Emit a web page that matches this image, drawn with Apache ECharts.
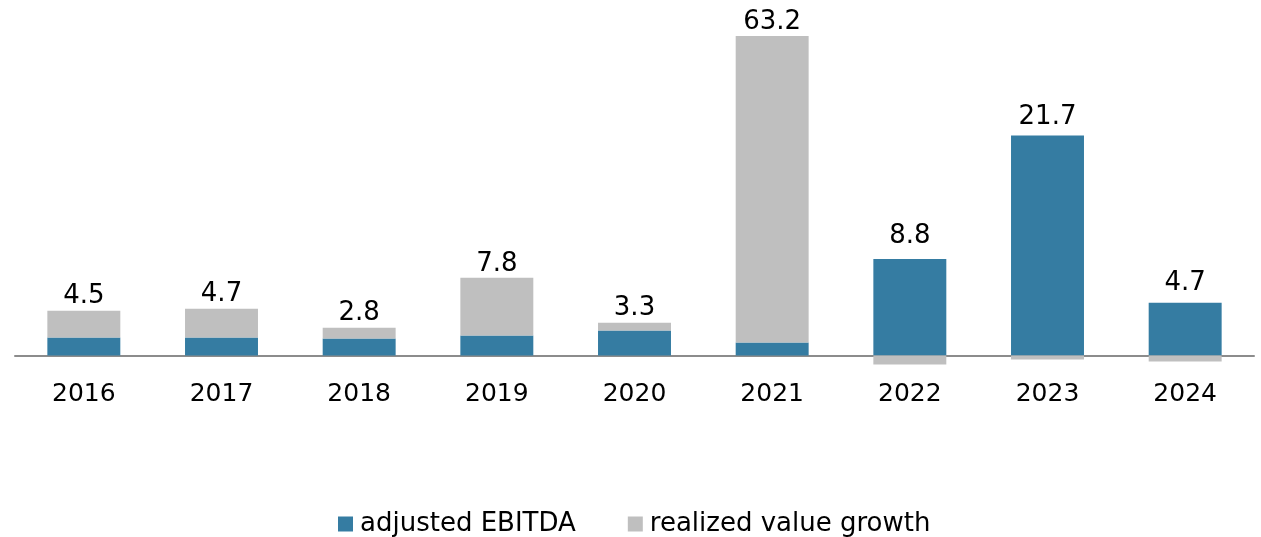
<!DOCTYPE html>
<html lang="en" style="height: 100%">

<head>
  <meta charset="utf-8">
</head>

<body style="height: 100%; margin: 0">
  <div id="container" style="height: 100%"></div>
  <script type="text/javascript" src="https://fastly.jsdelivr.net/npm/echarts@6/dist/echarts.min.js"></script>

  <script type="text/javascript">
    var dom = document.getElementById('container');
    var myChart = echarts.init(dom, null, { renderer: 'canvas' });

    // data
    const years = ['2016', '2017', '2018', '2019', '2020', '2021', '2022', '2023', '2024'];
    const ebitda = [1.8, 1.8, 1.7, 2.0, 2.5, 1.3, 9.7, 22.1, 5.3];
    const valueGrowth = [2.7, 2.9, 1.1, 5.8, 0.8, 61.9, -0.9, -0.4, -0.6];
    const totals = [4.5, 4.7, 2.8, 7.8, 3.3, 63.2, 8.8, 21.7, 4.7];

    const pxPerUnit = 9.95; // used only to lift labels over negative parts
    const labelBase = {
      show: true,
      position: 'top',
      distance: 1,
      fontSize: 26,
      lineHeight: 26,
      color: '#000',
      formatter: function (p) {
        return totals[p.dataIndex].toFixed(1);
      }
    };

    const ebitdaData = ebitda.map(function (v, i) {
      const onTop = valueGrowth[i] < 0;
      return {
        value: v,
        label: Object.assign({}, labelBase, {
          show: onTop,
          offset: [0, onTop ? valueGrowth[i] * pxPerUnit : 0]
        })
      };
    });
    const growthData = valueGrowth.map(function (v, i) {
      return {
        value: v,
        label: Object.assign({}, labelBase, { show: v >= 0 })
      };
    });

    var option = {
      animation: false,
      textStyle: { fontFamily: 'DejaVu Sans' },
      grid: {
        left: 15,
        right: 7,
        top: 36,
        bottom: 161.6
      },
      legend: {
        left: 338,
        top: 509,
        padding: 0,
        itemWidth: 15,
        itemHeight: 15,
        itemGap: 52,
        icon: 'rect',
        textStyle: {
          fontSize: 26,
          lineHeight: 30,
          color: '#000',
          padding: [0, 0, 0, 2]
        },
        data: ['adjusted EBITDA', 'realized value growth']
      },
      xAxis: {
        type: 'category',
        data: years,
        axisLine: { onZero: true, lineStyle: { color: '#8c8c8c', width: 2 } },
        axisTick: { show: false },
        axisLabel: {
          fontSize: 25,
          lineHeight: 30,
          color: '#000',
          margin: 4
        }
      },
      yAxis: {
        type: 'value',
        min: -2,
        max: 32.1,
        show: false,
        splitLine: { show: false }
      },
      series: [
        {
          name: 'adjusted EBITDA',
          type: 'bar',
          stack: 'total',
          barWidth: '53%',
          clip: true,
          itemStyle: { color: '#357ca2' },
          data: ebitdaData
        },
        {
          name: 'realized value growth',
          type: 'bar',
          stack: 'total',
          barWidth: '53%',
          clip: true,
          itemStyle: { color: '#bfbfbf' },
          data: growthData
        }
      ]
    };

    myChart.setOption(option);
    window.addEventListener('resize', myChart.resize);
  </script>
</body>

</html>
